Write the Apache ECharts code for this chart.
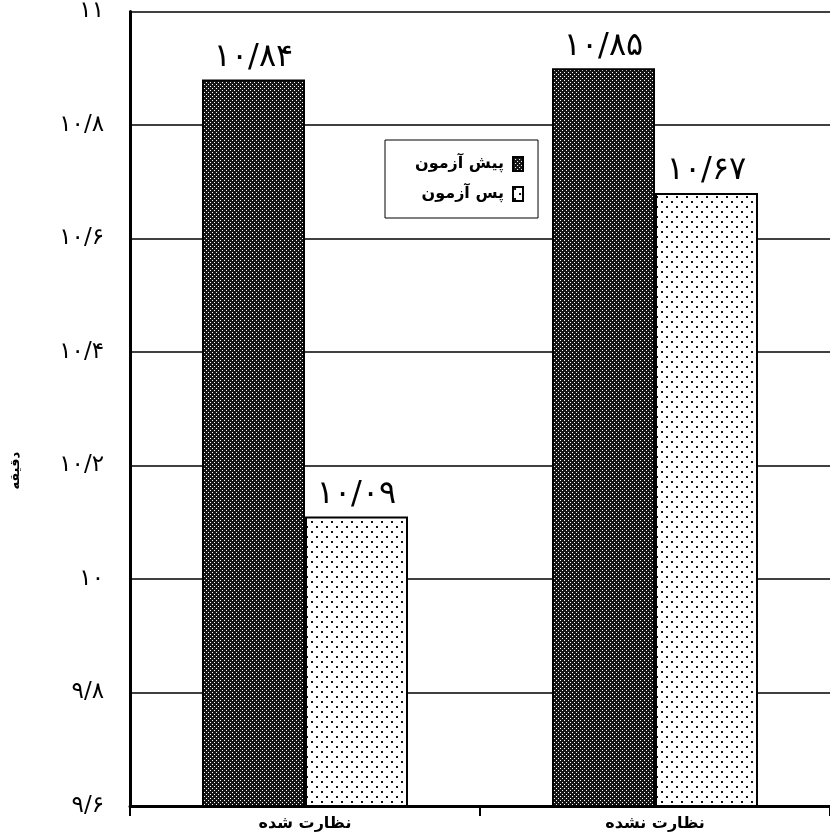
<!DOCTYPE html>
<html>
<head>
<meta charset="utf-8">
<script src="https://cdn.jsdelivr.net/npm/echarts@6/dist/echarts.min.js"></script>
<style>
  html, body { margin: 0; padding: 0; background: #fff; }
  #chart { width: 830px; height: 837px; }
</style>
</head>
<body>
<div id="chart"></div>
<script>
const categories = ['نظارت شده', 'نظارت نشده'];
const seriesNames = ['پیش آزمون', 'پس آزمون'];
// bar heights as drawn in the picture
const preTest = [10.88, 10.90];
const postTest = [10.11, 10.68];
// numbers printed above the bars
const preLabels = ['10/84', '10/85'];
const postLabels = ['10/09', '10/67'];
const yMin = 9.6, yMax = 11, yStep = 0.2;

const fontFamily = '"DejaVu Sans", sans-serif';

function toPersian(str) {
    return String(str).replace(/[0-9]/g, d => '۰۱۲۳۴۵۶۷۸۹'[d]);
}

function makePattern(size, bg, fg, dots, dotSize) {
    const c = document.createElement('canvas');
    c.width = size;
    c.height = size;
    const ctx = c.getContext('2d');
    ctx.fillStyle = bg;
    ctx.fillRect(0, 0, size, size);
    ctx.fillStyle = fg;
    dots.forEach(([x, y]) => ctx.fillRect(x, y, dotSize, dotSize));
    return c;
}

const darkPattern = makePattern(4, '#161616', '#ffffff', [[0, 0], [2, 2]], 1);
const lightPattern = makePattern(10, '#ffffff', '#111111', [[1, 1], [6, 6]], 2);

const chart = echarts.init(document.getElementById('chart'));

function barSeries(name, data, labels, pattern) {
    return {
        name: name,
        type: 'bar',
        data: data,
        barWidth: 103,
        barGap: '0%',
        itemStyle: {
            color: { image: pattern, repeat: 'repeat' },
            borderColor: '#000',
            borderWidth: 2
        },
        label: {
            show: true,
            position: 'top',
            distance: 6,
            fontFamily: fontFamily,
            fontSize: 32,
            color: '#000',
            formatter: p => toPersian(labels[p.dataIndex])
        }
    };
}

const option = {
    animation: false,
    backgroundColor: '#fff',
    grid: { left: 130, right: -4, top: 10, bottom: 31 },
    legend: {
        orient: 'vertical',
        left: 385,
        top: 140,
        align: 'right',
        icon: 'rect',
        itemWidth: 10,
        itemHeight: 14,
        itemGap: 14,
        padding: [16, 14, 16, 30],
        borderColor: '#000',
        borderWidth: 1,
        backgroundColor: '#fff',
        textStyle: {
            fontFamily: fontFamily, fontSize: 16, fontWeight: 'bold', color: '#000',
            padding: [0, 4, 0, 0]
        },
        data: seriesNames
    },
    xAxis: {
        type: 'category',
        data: categories,
        axisLine: { lineStyle: { color: '#000', width: 3 } },
        axisTick: { show: true, length: 10, lineStyle: { color: '#000', width: 2 } },
        axisLabel: {
            fontFamily: fontFamily, fontSize: 16, fontWeight: 'bold', color: '#000', margin: 10
        }
    },
    yAxis: {
        type: 'value',
        min: yMin,
        max: yMax,
        interval: yStep,
        name: 'دقیقه',
        nameLocation: 'middle',
        nameGap: 108,
        nameRotate: 90,
        nameTextStyle: {
            fontFamily: fontFamily, fontSize: 13, fontWeight: 'bold', color: '#000',
            padding: [0, 124, 0, 0]
        },
        axisLine: { show: true, lineStyle: { color: '#000', width: 3 } },
        axisTick: { show: false },
        splitLine: { show: true, lineStyle: { color: '#000', width: 1.5 } },
        axisLabel: {
            fontFamily: fontFamily,
            fontSize: 23,
            color: '#000',
            margin: 26,
            formatter: v => toPersian(String(Math.round(v * 10) / 10).replace('.', '/'))
        }
    },
    series: [
        barSeries(seriesNames[0], preTest, preLabels, darkPattern),
        barSeries(seriesNames[1], postTest, postLabels, lightPattern)
    ]
};

chart.setOption(option);
</script>
</body>
</html>
